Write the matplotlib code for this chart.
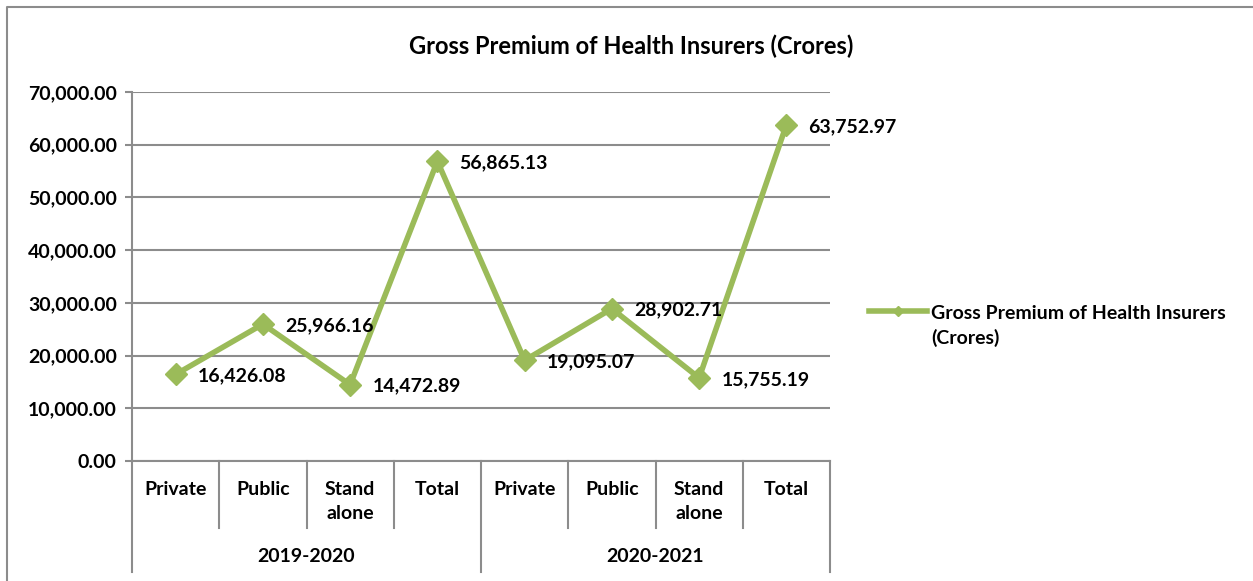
import matplotlib.pyplot as plt
from matplotlib.lines import Line2D
from matplotlib.ticker import FuncFormatter

plt.rcParams['font.family'] = ['Lato', 'DejaVu Sans']

# data
categorias = ['Private', 'Public', 'Stand\nalone', 'Total',
              'Private', 'Public', 'Stand\nalone', 'Total']
anos = ['2019-2020', '2020-2021']
premio = [16426.08, 25966.16, 14472.89, 56865.13,
          19095.07, 28902.71, 15755.19, 63752.97]
titulo = 'Gross Premium of Health Insurers (Crores)'

verde = '#9BBB59'
cinza = '#8C8C8C'
W, H = 1253, 581

fig = plt.figure(figsize=(W / 100, H / 100), dpi=100)
ax = fig.add_axes([132 / W, (H - 461) / H, (830 - 132) / W, (461 - 92) / H])

x = list(range(len(premio)))
ax.plot(x, premio, color=verde, lw=4, marker='D', ms=11, zorder=3, clip_on=False)

for xi, v in zip(x, premio):
    ax.annotate(f'{v:,.2f}', (xi, v), xytext=(16, -1), textcoords='offset points',
                ha='left', va='center', fontsize=14, fontweight='bold')

ax.set_xlim(-0.5, 7.5)
ax.set_ylim(0, 70000)
ax.set_yticks(range(0, 70001, 10000))
ax.yaxis.set_major_formatter(FuncFormatter(lambda v, p: f'{v:,.2f}'))
ax.tick_params(axis='y', length=5, color=cinza, width=1.5, labelsize=14, pad=6)
for lab in ax.get_yticklabels():
    lab.set_fontweight('bold')
ax.set_xticks([])
ax.grid(axis='y', color=cinza, lw=1.5)
ax.set_axisbelow(True)
for s in ['top', 'right']:
    ax.spines[s].set_visible(False)
for s in ['left', 'bottom']:
    ax.spines[s].set_color(cinza)
    ax.spines[s].set_linewidth(1.5)

# eixo de categorias em dois niveis
tr = ax.get_xaxis_transform()
for i in range(len(categorias) + 1):
    b = i - 0.5
    fundo = -0.3008 if i % 4 == 0 else -0.1816
    ax.plot([b, b], [0, fundo], transform=tr, color=cinza, lw=1.5, clip_on=False)
for xi, c in zip(x, categorias):
    yy = -0.111 if '\n' in c else -0.0759
    ax.text(xi, yy, c, transform=tr, ha='center', va='center', fontsize=14,
            fontweight='bold', linespacing=1.5)
for j, a in enumerate(anos):
    ax.text(j * 4 + 1.5, -0.2575, a, transform=tr, ha='center', va='center',
            fontsize=14, fontweight='bold')

fig.text(631 / W, 1 - 46 / H, titulo, ha='center', va='center',
         fontsize=17, fontweight='bold')

# legenda
fig.add_artist(Line2D([869 / W, 898 / W, 927 / W], [1 - 311 / H] * 3, color=verde, lw=4,
                      marker='D', ms=5, markevery=[1]))
fig.text(931 / W, 1 - 326 / H, 'Gross Premium of Health Insurers\n(Crores)',
         ha='left', va='center', fontsize=14, fontweight='bold', linespacing=1.45)

# moldura
fig.add_artist(Line2D([7 / W, 7 / W, 1], [0, 1 - 7 / H, 1 - 7 / H], color=cinza, lw=1.5))

fig.savefig('out.png', dpi=100, facecolor='white')
